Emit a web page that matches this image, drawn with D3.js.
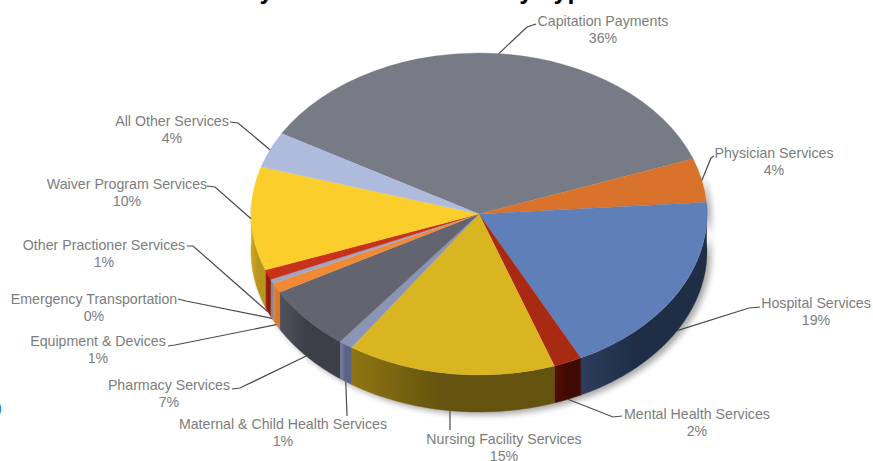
<!DOCTYPE html>
<html>
<head>
<meta charset="utf-8">
<script src="https://cdn.jsdelivr.net/npm/d3@7"></script>
<style>
  html, body { margin: 0; background: #fff; overflow: hidden; }
  svg { display: block; }
  text { font-family: "Liberation Sans", Arial, sans-serif; }
</style>
</head>
<body>
<svg id="chart" width="873" height="461"></svg>
<script>
const categories = [
  "Capitation Payments", "Physician Services", "Hospital Services",
  "Mental Health Services", "Nursing Facility Services",
  "Maternal & Child Health Services", "Pharmacy Services",
  "Equipment & Devices", "Emergency Transportation",
  "Other Practioner Services", "Waiver Program Services", "All Other Services"
];
// Share of spending, in percent.
const shares = [36.1, 4.4, 18.8, 2.0, 14.8, 1.0, 6.5, 1.0, 0.4, 1.0, 10.4, 3.6];

const topColors = ["#777b85", "#d9722b", "#5f7fb8", "#a82a12", "#d9b522", "#8a94b5",
                   "#62656f", "#f08a35", "#9da6c9", "#c8321a", "#fbce2c", "#aebbdd"];
const sideDark  = ["#50535b", "#8a4716", "#1f2d45", "#3f0a03", "#64530f", "#5c6382",
                   "#3c3f48", "#d87a2c", "#7d86a8", "#8a1e0d", "#b8951c", "#7c88a8"];
const sideLight = ["#50535b", "#8a4716", "#2c3e5c", "#560f05", "#8f7512", "#7b84a6",
                   "#50535c", "#f08a35", "#8f98ba", "#b32a14", "#cfa81f", "#7c88a8"];

// Label block per slice: centre x, baseline of the first line, elbow of the leader.
const labelLayout = [
  { x: 603, y: 26,  elbow: [527, 27],  end: [536, 24] },
  { x: 774, y: 158, elbow: [711, 158], end: [714, 156] },
  { x: 816, y: 308, elbow: [749, 308], end: [760, 307] },
  { x: 697, y: 419, elbow: [613, 417], end: [622, 416] },
  { x: 504, y: 444, elbow: [450, 428], end: [450, 430] },
  { x: 283, y: 429, elbow: [347, 416], end: [347, 416] },
  { x: 169, y: 390, elbow: [240, 388], end: [232, 389] },
  { x: 98,  y: 346, elbow: [175, 345], end: [168, 346] },
  { x: 94,  y: 304, elbow: [186, 301], end: [178, 299] },
  { x: 104, y: 250, elbow: [193, 246], end: [187, 246] },
  { x: 127, y: 189, elbow: [215, 187], end: [207, 186] },
  { x: 172, y: 126, elbow: [238, 123], end: [230, 122] }
];

const W = 873, H = 461;
const cx = 479, cy = 214, rx = 228, ry = 161, depth = 37;

const svg = d3.select("#chart");
const defs = svg.append("defs");

const pie = d3.pie().sort(null).startAngle(-Math.PI / 3).endAngle(5 * Math.PI / 3);
const slices = pie(shares).map((s, i) => ({ ...s, i }));

// Rim position of a pie angle (0 = top, clockwise) on the tilted disc.
const rimX = d3.scaleLinear().domain([-1, 1]).range([cx - rx, cx + rx]);
const rimY = d3.scaleLinear().domain([-1, 1]).range([cy - ry, cy + ry]);
const px = a => rimX(Math.sin(a));
const py = a => rimY(-Math.cos(a));

// Soft drop shadow under the disc's lower edge.
const blur = defs.append("filter").attr("id", "soft")
  .attr("x", "-10%").attr("y", "-10%").attr("width", "120%").attr("height", "130%");
blur.append("feGaussianBlur").attr("stdDeviation", 3);

function sidePath(a0, a1) {
  const n = Math.max(2, Math.ceil((a1 - a0) / 0.02));
  const angles = d3.range(n + 1).map(k => a0 + (a1 - a0) * k / n);
  const line = d3.line();
  const upper = angles.map(a => [px(a), py(a)]);
  const lower = angles.slice().reverse().map(a => [px(a), py(a) + depth]);
  return line(upper.concat(lower)) + "Z";
}

// Shadow
svg.append("path")
  .attr("d", sidePath(Math.PI * 0.42, Math.PI * 1.55))
  .attr("fill", "#000").attr("opacity", 0.35)
  .attr("transform", "translate(4,3)")
  .attr("filter", "url(#soft)");

// Outer wall: only the front half of the disc shows.
const wallFrom = Math.PI * 0.5 - 0.06, wallTo = Math.PI * 1.5 + 0.05;
const walls = slices
  .map(s => ({ ...s, a0: Math.max(s.startAngle, wallFrom), a1: Math.min(s.endAngle, wallTo) }))
  .filter(s => s.a1 > s.a0);

walls.forEach(s => {
  const id = "wall" + s.i;
  const g = defs.append("linearGradient").attr("id", id)
    .attr("gradientUnits", "userSpaceOnUse")
    .attr("x1", px(s.a1)).attr("x2", px(s.a0)).attr("y1", 0).attr("y2", 0);
  g.append("stop").attr("offset", 0).attr("stop-color", sideLight[s.i]);
  g.append("stop").attr("offset", 0.45).attr("stop-color", sideDark[s.i]);
  g.append("stop").attr("offset", 1).attr("stop-color", sideDark[s.i]);
});

svg.append("g").selectAll("path").data(walls).join("path")
  .attr("d", s => sidePath(s.a0, s.a1))
  .attr("fill", s => `url(#wall${s.i})`)
  .attr("stroke", s => `url(#wall${s.i})`)
  .attr("stroke-width", 0.4);

// Top face: a circular pie squashed onto the ellipse.
const arc = d3.arc().innerRadius(0).outerRadius(rx);
svg.append("g")
  .attr("transform", `translate(${cx},${cy}) scale(1,${ry / rx})`)
  .selectAll("path").data(slices).join("path")
  .attr("d", arc)
  .attr("fill", s => topColors[s.i])
  .attr("stroke", s => topColors[s.i])
  .attr("stroke-width", 0.3);

// Leader lines run from the rim (or the base of the wall) to each label.
const leader = d3.line();
const leaderData = slices.map(s => {
  const mid = (s.startAngle + s.endAngle) / 2;
  const onWall = mid > Math.PI * 0.55 && mid < Math.PI * 1.45;
  const L = labelLayout[s.i];
  return [[px(mid), py(mid) + (onWall ? depth : 0)], L.elbow, L.end];
});
svg.append("g").selectAll("path").data(leaderData).join("path")
  .attr("d", d => leader(d))
  .attr("fill", "none")
  .attr("stroke", "#4a4a4a")
  .attr("stroke-width", 1.2);

// Labels: name on the first line, rounded percentage on the second.
const pct = v => Math.round(v) + "%";
const labels = svg.append("g").attr("fill", "#7d7d7d").attr("font-size", 14.2)
  .attr("text-anchor", "middle")
  .selectAll("text").data(slices).join("text")
  .attr("x", s => labelLayout[s.i].x)
  .attr("y", s => labelLayout[s.i].y);
labels.append("tspan").text(s => categories[s.i]);
labels.append("tspan")
  .attr("x", s => labelLayout[s.i].x).attr("dy", 17)
  .text(s => pct(shares[s.i]));

// Heading, mostly above the top edge of the page.
svg.append("text")
  .attr("x", 115).attr("y", -1)
  .attr("font-size", 25).attr("font-weight", "bold").attr("fill", "#000")
  .text("Medicaid Payments for Services by Type");

// Stray bracket at the left edge.
svg.append("text")
  .attr("x", -3).attr("y", 413)
  .attr("font-size", 15).attr("fill", "#2a7db5")
  .text(")");
</script>
</body>
</html>
